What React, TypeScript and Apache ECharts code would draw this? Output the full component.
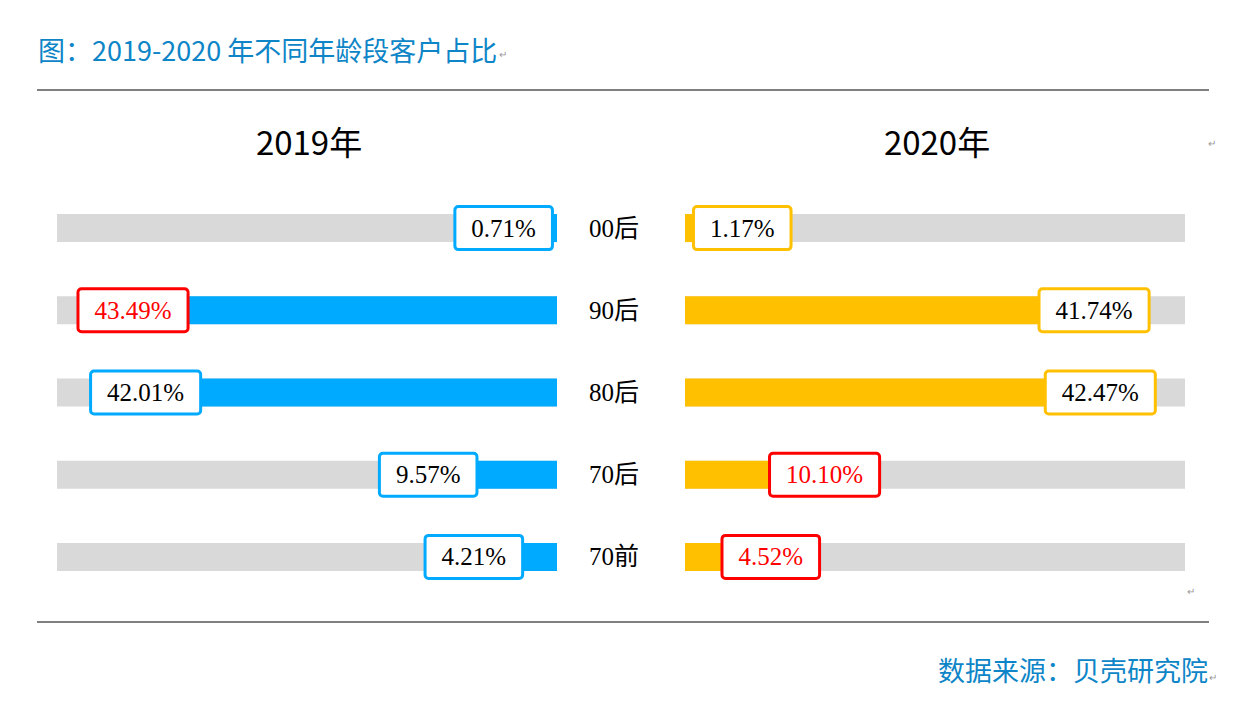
import React, { useEffect, useRef } from "react";
import * as echarts from "echarts";

const categories = ["00后", "90后", "80后", "70后", "70前"];
const values2019 = [0.71, 43.49, 42.01, 9.57, 4.21];
const values2020 = [1.17, 41.74, 42.47, 10.1, 4.52];
const highlight2019 = [false, true, false, false, false];
const highlight2020 = [false, false, false, true, true];
const yearTitles = ["2019年", "2020年"];
const chartTitle = "图：2019-2020 年不同年龄段客户占比";
const sourceText = "数据来源：贝壳研究院";

const BLUE = "#00aaff";
const YELLOW = "#ffc000";
const RED = "#ff0000";
const TITLE_BLUE = "#0d85c7";
const AXIS_MAX = 58.7;

function buildData(values: number[], hl: boolean[], color: string) {
  return values.map((v, i) => ({
    value: v,
    label: {
      borderColor: hl[i] ? RED : color,
      color: hl[i] ? RED : "#000",
    },
  }));
}

const labelBase = {
  show: true,
  formatter: (p: any) => Number(p.value).toFixed(2) + "%",
  backgroundColor: "#fff",
  borderWidth: 3,
  borderRadius: 2,
  padding: [8, 15, 6, 15],
  fontSize: 25,
  lineHeight: 26,
  fontFamily: "Liberation Serif, Times New Roman, serif",
  distance: 0,
};

export default function App() {
  const ref = useRef<HTMLDivElement>(null);
  useEffect(() => {
    const chart = echarts.init(ref.current!, null, { renderer: "svg" });
    const cjk = "Noto Sans CJK SC, Noto Sans, sans-serif";
    chart.setOption({
      animation: false,
      backgroundColor: "#fff",
      grid: [
        { left: 57, width: 500, top: 187, height: 411 },
        { left: 685, width: 500, top: 187, height: 411 },
      ],
      xAxis: [
        { type: "value", gridIndex: 0, min: 0, max: AXIS_MAX, inverse: true, show: false },
        { type: "value", gridIndex: 1, min: 0, max: AXIS_MAX, show: false },
      ],
      yAxis: [
        {
          type: "category",
          gridIndex: 0,
          data: categories,
          inverse: true,
          position: "right",
          axisLine: { show: false },
          axisTick: { show: false },
          axisLabel: { show: false },
        },
        {
          type: "category",
          gridIndex: 1,
          data: categories,
          inverse: true,
          axisLine: { show: false },
          axisTick: { show: false },
          axisLabel: {
            show: true,
            margin: 71,
            align: "center",
            fontSize: 25,
            color: "#000",
            fontFamily: "Liberation Serif, Noto Sans CJK SC, serif",
          },
        },
      ],
      series: [
        {
          type: "bar",
          xAxisIndex: 0,
          yAxisIndex: 0,
          data: buildData(values2019, highlight2019, BLUE),
          barWidth: 28,
          itemStyle: { color: BLUE },
          showBackground: true,
          backgroundStyle: { color: "#d9d9d9" },
          label: { ...labelBase, position: "left" },
        },
        {
          type: "bar",
          xAxisIndex: 1,
          yAxisIndex: 1,
          data: buildData(values2020, highlight2020, YELLOW),
          barWidth: 28,
          itemStyle: { color: YELLOW },
          showBackground: true,
          backgroundStyle: { color: "#d9d9d9" },
          label: { ...labelBase, position: "right" },
        },
      ],
      graphic: [
        {
          type: "text",
          x: 38,
          y: 49,
          style: {
            text: chartTitle,
            fill: TITLE_BLUE,
            fontSize: 27,
            fontFamily: cjk,
            verticalAlign: "middle",
            align: "left",
          },
        },
        {
          type: "text",
          x: 499,
          y: 54,
          style: { text: "↵", fill: "#999", fontSize: 10, verticalAlign: "middle" },
        },
        {
          type: "line",
          shape: { x1: 37, y1: 90, x2: 1209, y2: 90 },
          style: { stroke: "#808080", lineWidth: 2 },
        },
        {
          type: "line",
          shape: { x1: 37, y1: 622, x2: 1209, y2: 622 },
          style: { stroke: "#808080", lineWidth: 2 },
        },
        {
          type: "text",
          x: 309,
          y: 141,
          style: {
            text: yearTitles[0],
            fill: "#000",
            fontSize: 33,
            fontFamily: cjk,
            align: "center",
            verticalAlign: "middle",
          },
        },
        {
          type: "text",
          x: 937,
          y: 141,
          style: {
            text: yearTitles[1],
            fill: "#000",
            fontSize: 33,
            fontFamily: cjk,
            align: "center",
            verticalAlign: "middle",
          },
        },
        {
          type: "text",
          x: 1208,
          y: 143,
          style: { text: "↵", fill: "#999", fontSize: 10, verticalAlign: "middle" },
        },
        {
          type: "text",
          x: 1187,
          y: 591,
          style: { text: "↵", fill: "#999", fontSize: 10, verticalAlign: "middle" },
        },
        {
          type: "text",
          x: 1208,
          y: 669,
          style: {
            text: sourceText,
            fill: TITLE_BLUE,
            fontSize: 27,
            fontFamily: cjk,
            align: "right",
            verticalAlign: "middle",
          },
        },
        {
          type: "text",
          x: 1209,
          y: 677,
          style: { text: "↵", fill: "#999", fontSize: 10, verticalAlign: "middle" },
        },
      ],
    });
    return () => chart.dispose();
  }, []);
  return (
    <div
      ref={ref}
      style={{ position: "fixed", left: 0, top: 0, width: 1260, height: 719, background: "#fff" }}
    />
  );
}
